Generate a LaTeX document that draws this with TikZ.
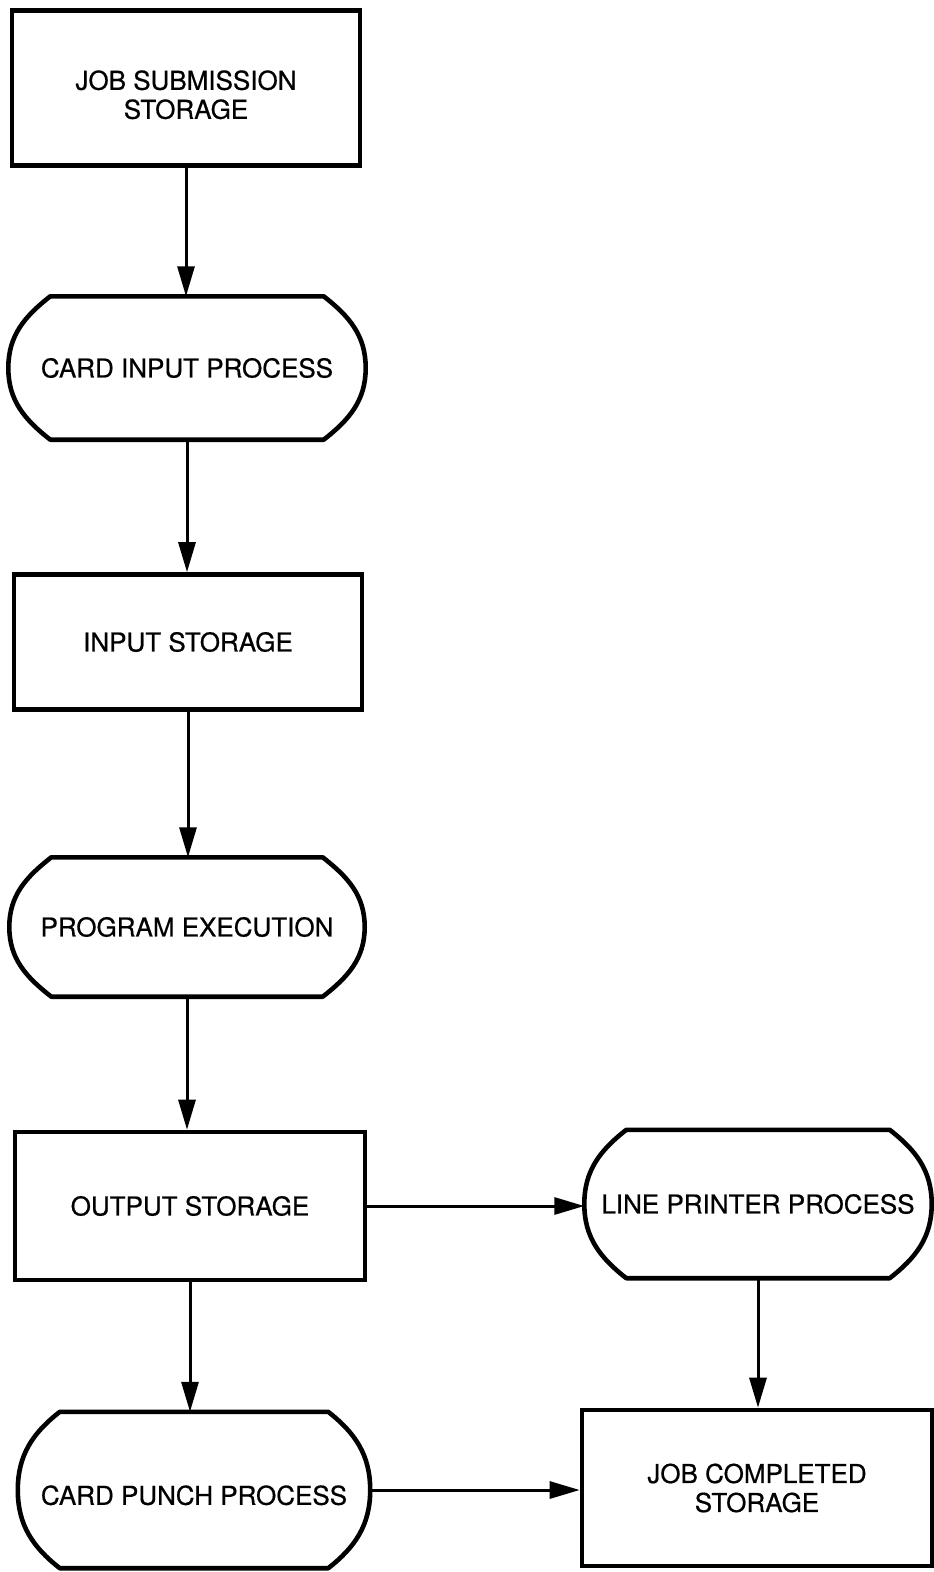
\documentclass[tikz,border=0pt]{standalone}
\usepackage{fontspec}
\setmainfont{TeX Gyre Heros}[FakeBold=0.6]
\usepackage{tikz}
\usetikzlibrary{arrows.meta, calc}

\tikzset{
  store/.style={draw, line width=4.6pt, align=center, font=\fontsize{26}{29}\selectfont},
  proc/.style={align=center, font=\fontsize{26}{29}\selectfont},
  outline/.style={line width=4.6pt, line join=round},
  flow/.style={line width=3pt, -{Triangle[length=30pt,width=17pt]}}
}

\begin{document}
\begin{tikzpicture}[x=1pt, y=-1pt]
  \useasboundingbox (0,0) rectangle (934,1572);

  % storage boxes
  \node[store, minimum width=348pt, minimum height=155pt, text height=62pt] (jobsub) at (186,88) {JOB SUBMISSION\\STORAGE};
  \node[store, minimum width=348pt, minimum height=135pt] (instore) at (188,642) {INPUT STORAGE};
  \node[store, minimum width=350pt, minimum height=148pt] (outstore) at (190,1206) {OUTPUT STORAGE};
  \node[store, minimum width=350pt, minimum height=156pt] (jobdone) at (757,1488) {JOB COMPLETED\\STORAGE};

  % processes
  \node[proc, minimum width=357pt, minimum height=143pt] (cardin) at (187,368) {CARD INPUT PROCESS};
  \node[proc, minimum width=355pt, minimum height=139pt] (progexec) at (187,927) {PROGRAM EXECUTION};
  \node[proc, minimum width=347pt, minimum height=148pt] (lineprt) at (758,1204) {LINE PRINTER PROCESS};
  \node[proc, minimum width=352pt, minimum height=156pt, text height=30pt] (cardpch) at (194,1490) {CARD PUNCH PROCESS};

  \foreach \n in {cardin, progexec, lineprt, cardpch}
    \draw[outline] ([xshift=42pt]\n.north west) -- ([xshift=-42pt]\n.north east)
      to[out=-38,in=90] (\n.east) to[out=-90,in=38] ([xshift=-42pt]\n.south east)
      -- ([xshift=42pt]\n.south west)
      to[out=142,in=-90] (\n.west) to[out=90,in=-142] cycle;

  % connectors
  \draw[flow] (jobsub.south) -- (jobsub.south |- cardin.north);
  \draw[flow] (cardin.south) -- (cardin.south |- instore.north);
  \draw[flow] (instore.south) -- (instore.south |- progexec.north);
  \draw[flow] (progexec.south) -- (progexec.south |- outstore.north);
  \draw[flow] (outstore.south) -- (outstore.south |- cardpch.north);
  \draw[flow] (outstore.east) -- (outstore.east -| lineprt.west);
  \draw[flow] (lineprt.south) -- (lineprt.south |- jobdone.north);
  \draw[flow] (cardpch.east) -- (cardpch.east -| jobdone.west);
\end{tikzpicture}
\end{document}
